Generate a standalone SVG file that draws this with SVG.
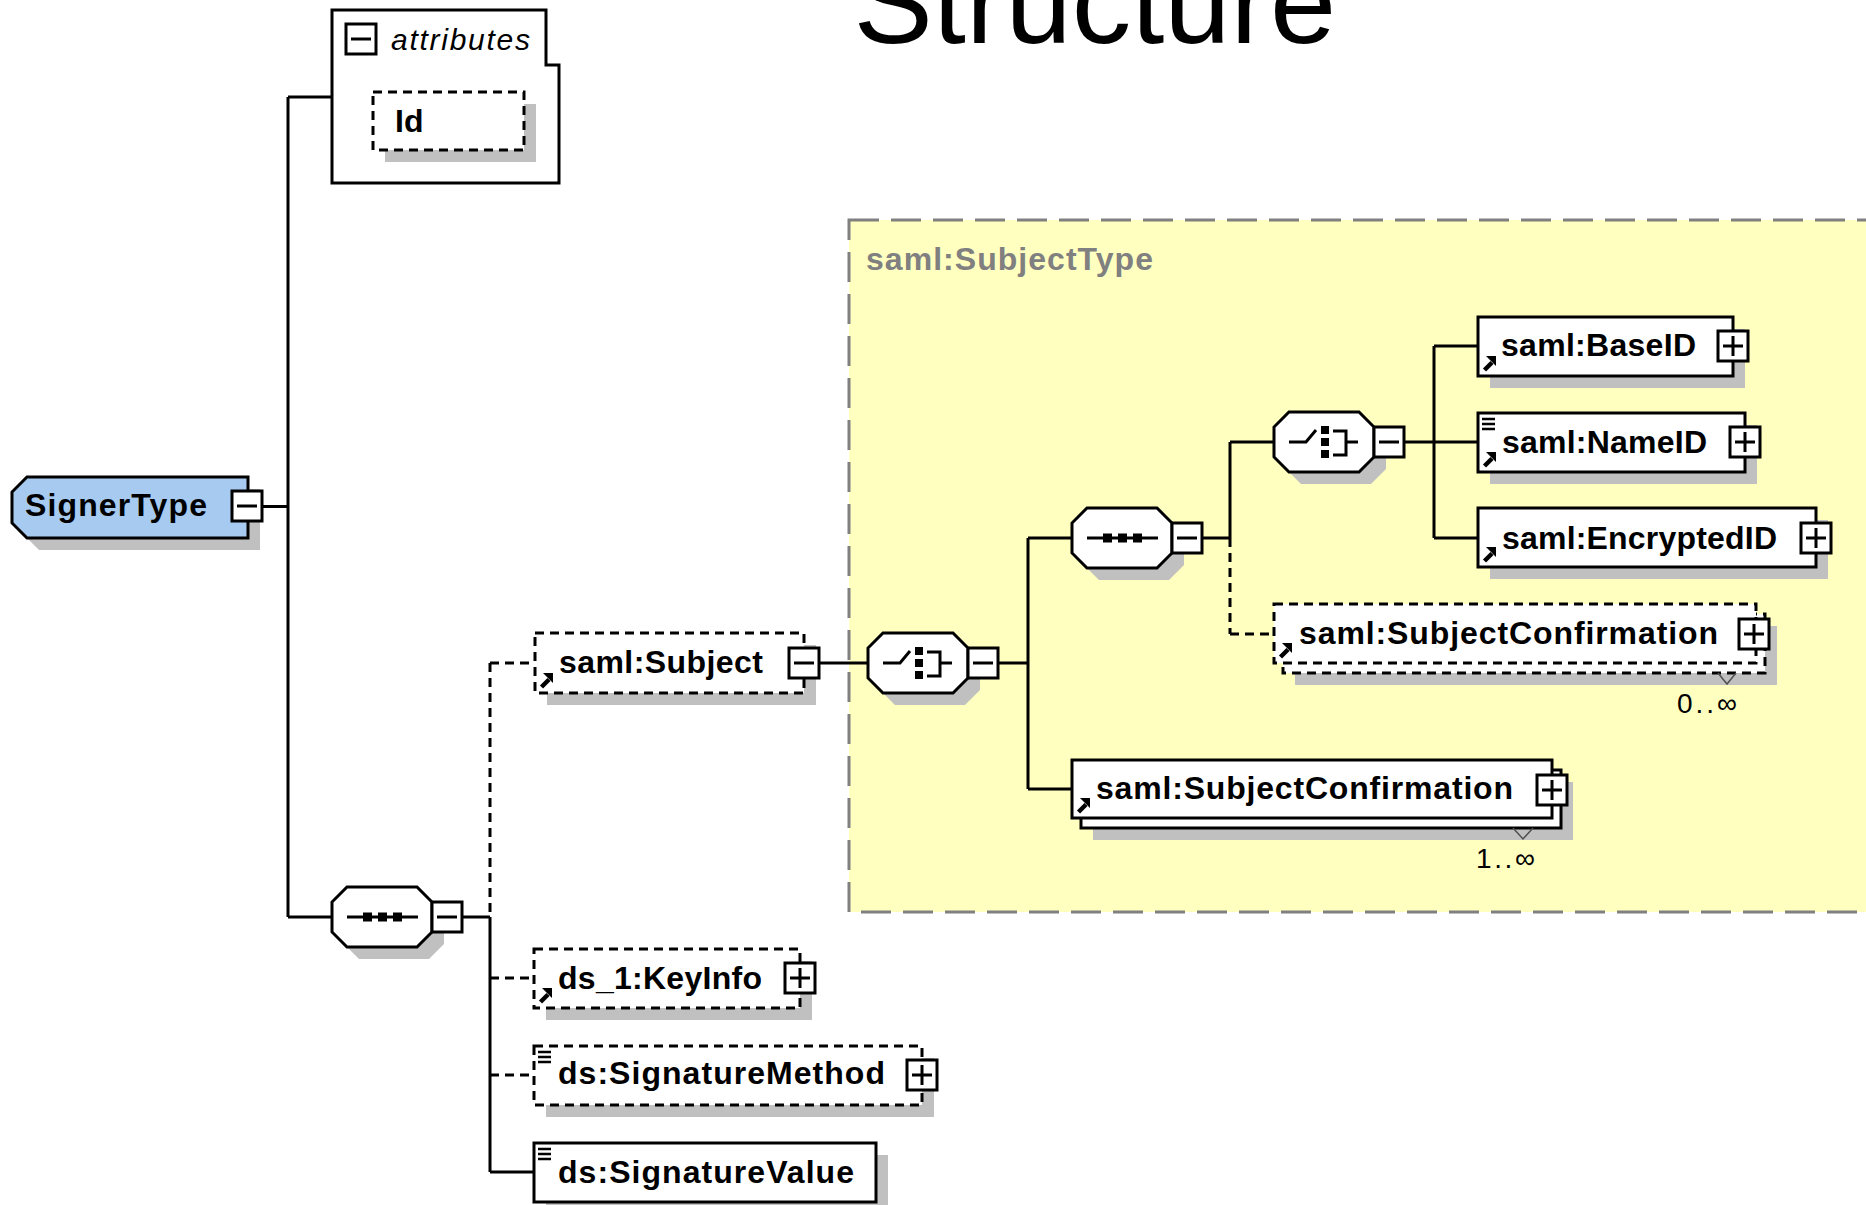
<svg xmlns="http://www.w3.org/2000/svg" xmlns:xlink="http://www.w3.org/1999/xlink" width="1866" height="1205" viewBox="0 0 1866 1205">
<style>
.box{fill:#fff;stroke:#000;stroke-width:3}
.dbox{fill:#fff;stroke:#000;stroke-width:3;stroke-dasharray:9 6}
.sh{fill:#c0c0c0}
.ln{fill:none;stroke:#000;stroke-width:3}
.dl{fill:none;stroke:#000;stroke-width:3;stroke-dasharray:9 6}
.lbl{font-family:"Liberation Sans",Arial,sans-serif;font-weight:bold;font-size:32px;fill:#000}
.mult{font-family:"Liberation Sans",Arial,sans-serif;font-size:28px;fill:#000}
.notch{fill:none;stroke:#505050;stroke-width:1.5}
</style>
<defs>
<g id="minus"><rect x="0" y="0" width="30" height="30" class="box"/><path d="M5 15H25" class="ln"/></g>
<g id="plus"><rect x="0" y="0" width="30" height="30" class="box"/><path d="M5 15H25M15 5V25" class="ln"/></g>
<polygon id="oct" points="15,0 85,0 100,15 100,45 85,60 15,60 0,45 0,15"/>
<g id="ref"><path d="M1.5 14L9 6.5" stroke="#000" stroke-width="4.5" fill="none"/><polygon points="3,0 13,0 13,10" fill="#000"/></g>
<g id="eq"><path d="M0 1H13M0 6H13M0 11H13" stroke="#000" stroke-width="2.5" fill="none"/></g>
<g id="seqIcon"><path d="M-35 0H36" class="ln"/><rect x="-19" y="-4.5" width="9" height="9"/><rect x="-4" y="-4.5" width="9" height="9"/><rect x="11" y="-4.5" width="9" height="9"/></g>
<g id="choiceIcon"><path d="M-35 0H-18L-8 -12" class="ln"/><rect x="-3" y="-16" width="8" height="8"/><rect x="-3" y="-4" width="8" height="8"/><rect x="-3" y="8" width="8" height="8"/><path d="M9 -11H22V13H9M22 0H34" class="ln"/></g>
</defs>
<rect x="0" y="0" width="1866" height="1205" fill="#fff"/>
<text x="853.5" y="43" font-family="Liberation Sans, Arial, sans-serif" font-size="119" fill="#000">Structure</text>
<g id="subjecttype-region">
<rect x="849" y="220" width="1040" height="692" fill="#ffffc0" stroke="#808080" stroke-width="3" stroke-dasharray="30 12"/>
<text x="866" y="270" class="lbl" style="fill:#808080" textLength="287">saml:SubjectType</text>
</g>
<g id="connectors">
<path class="ln" d="M288 97V917M262 506.5H288M288 97H332M288 917H332M462 917H490M490 917V1172M490 1172H534M818 663H868M998 663H1028M1028 538V789M1028 538H1072M1028 789H1072M1202 538H1230M1230 442V538M1230 442H1274M1404 442H1434M1434 346V538M1434 346H1478M1434 442H1478M1434 538H1478"/>
<path class="dl" d="M490 663V917M490 663H535M490 978H534M490 1075H534M1230 538V634M1230 634H1274"/>
</g>
<g id="node-signertype">
<polygon class="sh" points="39,489 260,489 260,550 39,550 24,535 24,504"/>
<polygon points="27,477 248,477 248,538 27,538 12,523 12,492" fill="#a6caf0" stroke="#000" stroke-width="3"/>
<text x="25" y="516" class="lbl" textLength="182">SignerType</text>
<use href="#minus" x="232" y="491"/>
</g>
<g id="node-attributes">
<polygon points="332,10 546,10 546,65 559,65 559,183 332,183" class="box"/>
<use href="#minus" x="346" y="24"/>
<text x="391" y="50" font-family="Liberation Sans, Arial, sans-serif" font-style="italic" font-size="30" fill="#000" textLength="139">attributes</text>
</g>
<g id="node-id">
<rect x="385" y="104" width="151" height="58" class="sh"/>
<rect x="373" y="92" width="151" height="58" class="dbox"/>
<text x="395" y="132" class="lbl">Id</text>
</g>
<g id="node-sequence-1">
<use href="#oct" x="344" y="899" class="sh"/>
<use href="#oct" x="332" y="887" class="box"/>
<use href="#seqIcon" x="382" y="917"/>
<use href="#minus" x="432" y="902"/>
</g>
<g id="node-saml-subject">
<rect x="547" y="645" width="269" height="60" class="sh"/>
<rect x="535" y="633" width="269" height="60" class="dbox"/>
<use href="#ref" x="540" y="673"/>
<text x="559" y="673" class="lbl" textLength="204">saml:Subject</text>
<use href="#minus" x="789" y="648"/>
</g>
<g id="node-keyinfo">
<rect x="546" y="961" width="266" height="59" class="sh"/>
<rect x="534" y="949" width="266" height="59" class="dbox"/>
<use href="#ref" x="539" y="988"/>
<text x="558" y="989" class="lbl" textLength="204">ds_1:KeyInfo</text>
<use href="#plus" x="785" y="963"/>
</g>
<g id="node-signaturemethod">
<rect x="546" y="1058" width="388" height="59" class="sh"/>
<rect x="534" y="1046" width="388" height="59" class="dbox"/>
<use href="#eq" x="538" y="1051"/>
<text x="558" y="1084" class="lbl" textLength="327">ds:SignatureMethod</text>
<use href="#plus" x="907" y="1060"/>
</g>
<g id="node-signaturevalue">
<rect x="546" y="1155" width="342" height="59" class="sh"/>
<rect x="534" y="1143" width="342" height="59" class="box"/>
<use href="#eq" x="538" y="1148"/>
<text x="558" y="1183" class="lbl" textLength="296">ds:SignatureValue</text>
</g>
<g id="node-choice-1">
<use href="#oct" x="880" y="645" class="sh"/>
<use href="#oct" x="868" y="633" class="box"/>
<use href="#choiceIcon" x="918" y="663"/>
<use href="#minus" x="968" y="648"/>
</g>
<g id="node-sequence-2">
<use href="#oct" x="1084" y="520" class="sh"/>
<use href="#oct" x="1072" y="508" class="box"/>
<use href="#seqIcon" x="1122" y="538"/>
<use href="#minus" x="1172" y="523"/>
</g>
<g id="node-choice-2">
<use href="#oct" x="1286" y="424" class="sh"/>
<use href="#oct" x="1274" y="412" class="box"/>
<use href="#choiceIcon" x="1324" y="442"/>
<use href="#minus" x="1374" y="427"/>
</g>
<g id="node-baseid">
<rect x="1490" y="329" width="255" height="59" class="sh"/>
<rect x="1478" y="317" width="255" height="59" class="box"/>
<use href="#ref" x="1483" y="356"/>
<text x="1501" y="356" class="lbl" textLength="195">saml:BaseID</text>
<use href="#plus" x="1718" y="331"/>
</g>
<g id="node-nameid">
<rect x="1490" y="425" width="267" height="59" class="sh"/>
<rect x="1478" y="413" width="267" height="59" class="box"/>
<use href="#eq" x="1482" y="418"/>
<use href="#ref" x="1483" y="452"/>
<text x="1502" y="453" class="lbl" textLength="205">saml:NameID</text>
<use href="#plus" x="1730" y="427"/>
</g>
<g id="node-encryptedid">
<rect x="1490" y="520" width="338" height="59" class="sh"/>
<rect x="1478" y="508" width="338" height="59" class="box"/>
<use href="#ref" x="1483" y="547"/>
<text x="1502" y="549" class="lbl" textLength="275">saml:EncryptedID</text>
<use href="#plus" x="1801" y="523"/>
</g>
<g id="node-subjectconfirmation-optional">
<rect x="1295" y="626" width="482" height="59" class="sh"/>
<rect x="1283" y="614" width="482" height="59" class="dbox"/>
<rect x="1274" y="604" width="482" height="59" class="dbox"/>
<use href="#ref" x="1279" y="643"/>
<text x="1299" y="644" class="lbl" textLength="419">saml:SubjectConfirmation</text>
<use href="#plus" x="1739" y="619"/>
<polyline class="notch" points="1718,673 1727,684 1736,673"/>
<text x="1677" y="713" class="mult" textLength="60">0..∞</text>
</g>
<g id="node-subjectconfirmation">
<rect x="1093" y="782" width="480" height="58" class="sh"/>
<rect x="1081" y="770" width="480" height="58" class="box"/>
<rect x="1072" y="760" width="480" height="58" class="box"/>
<use href="#ref" x="1077" y="798"/>
<text x="1096" y="799" class="lbl" textLength="417">saml:SubjectConfirmation</text>
<use href="#plus" x="1537" y="775"/>
<polyline class="notch" points="1513,828 1523,839 1533,828"/>
<text x="1476" y="868" class="mult" textLength="59">1..∞</text>
</g>
</svg>
